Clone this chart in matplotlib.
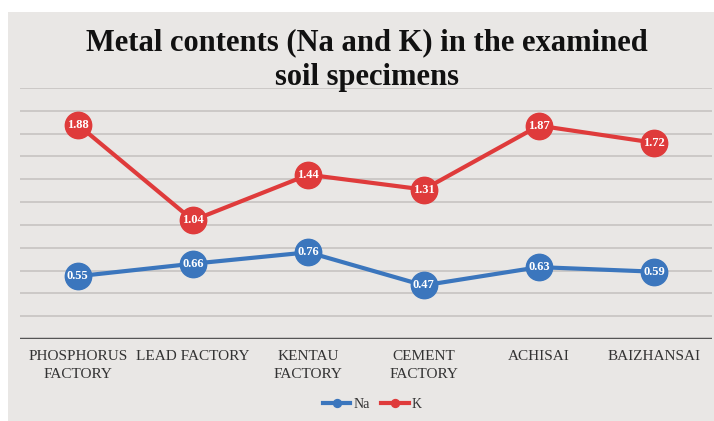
import matplotlib.pyplot as plt
import numpy as np
from matplotlib.patches import Rectangle

sites = ['PHOSPHORUS\nFACTORY', 'LEAD FACTORY', 'KENTAU\nFACTORY', 'CEMENT\nFACTORY', 'ACHISAI', 'BAIZHANSAI']
na = [0.55, 0.66, 0.76, 0.47, 0.63, 0.59]
k = [1.88, 1.04, 1.44, 1.31, 1.87, 1.72]

plt.rcParams['font.family'] = ['Liberation Serif', 'DejaVu Serif']

fig = plt.figure(figsize=(7.14, 4.21), dpi=100)
fig.patch.set_facecolor('white')
# grey panel behind the chart
fig.patches.append(Rectangle((8/714, 0), 1, 1 - 12/421, transform=fig.transFigure,
                             facecolor='#e9e7e5', edgecolor='none', zorder=-5))

ax = fig.add_axes([20/714, 1 - 339/421, 692/714, 251/421])
ax.set_zorder(2)
ax.set_facecolor('none')
x = np.arange(len(sites))

for y in np.arange(0.2, 2.21, 0.2):
    ax.axhline(y, color='#c4c1bf', lw=1.1, zorder=1)
ax.axhline(0, color='#555555', lw=2.5, zorder=2)

blue = '#3b76bd'
red = '#df3b3b'
ax.plot(x, na, color=blue, lw=3, marker='o', ms=19, label='Na', zorder=3)
ax.plot(x, k, color=red, lw=3, marker='o', ms=19, label='K', zorder=3)
for xi, v in zip(x, na):
    ax.text(xi, v, f'{v:.2f}', color='white', fontsize=9, fontweight='bold', ha='center', va='center', zorder=4)
for xi, v in zip(x, k):
    ax.text(xi, v, f'{v:.2f}', color='white', fontsize=9, fontweight='bold', ha='center', va='center', zorder=4)

ax.set_xlim(-0.5, len(sites) - 0.5)
ax.set_ylim(0, 2.2)
ax.set_yticks([])
ax.set_xticks(x)
ax.set_xticklabels(sites, fontsize=11, color='#333333', linespacing=1.45)
ax.tick_params(axis='x', length=0, pad=8)
for s in ax.spines.values():
    s.set_visible(False)

fig.text(367/714, 1 - 60/421, 'Metal contents (Na and K) in the examined\nsoil specimens',
         ha='center', va='center', fontsize=22, fontweight='bold', color='#111111', linespacing=1.28)

leg = fig.legend(loc='center', bbox_to_anchor=(372/714, 1 - 404/421), ncol=2, frameon=False,
                 fontsize=10, markerscale=0.3, handlelength=2.0, columnspacing=0.8, handletextpad=0.2)
for t in leg.get_texts():
    t.set_color('#333333')

fig.savefig('out.png', dpi=100)
